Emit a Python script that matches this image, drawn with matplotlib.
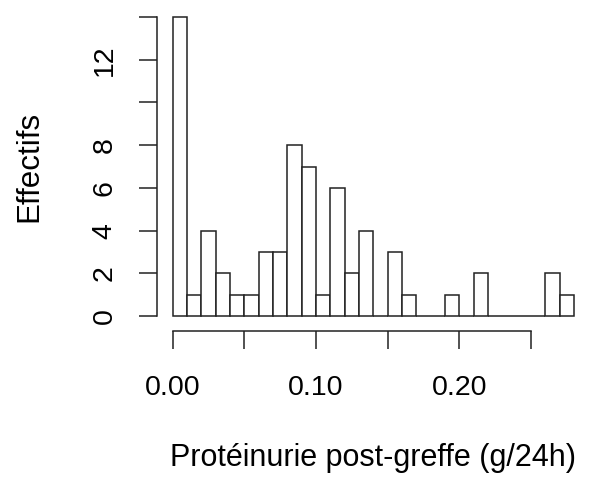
import numpy as np
import matplotlib
matplotlib.use("Agg")
import matplotlib.pyplot as plt

plt.rcParams['font.family'] = ['Liberation Sans', 'DejaVu Sans']

# histogram counts, bins of 0.01 g/24h starting at 0
counts = [14, 1, 4, 2, 1, 1, 3, 3, 8, 7, 1, 6, 2, 4,
          0, 3, 1, 0, 0, 1, 0, 2, 0, 0, 0, 0, 2, 1]
bin_start = 0.0
bin_width = 0.01

x_ticks = [0.00, 0.05, 0.10, 0.15, 0.20, 0.25]
x_ticklabels = ['0.00', '', '0.10', '', '0.20', '']
y_ticks = [0, 2, 4, 6, 8, 10, 12, 14]
y_ticklabels = ['0', '2', '4', '6', '8', '', '12', '']

fig = plt.figure(figsize=(5.98, 4.87), dpi=100)
ax = fig.add_axes([0.262, 0.3265, 0.725, 0.663])

lefts = bin_start + bin_width * np.arange(len(counts))
ax.bar(lefts, counts, width=bin_width, align='edge',
       facecolor='white', edgecolor='#222222', linewidth=1.1)

x_hi = bin_start + bin_width * len(counts)
pad_x = 0.04 * (x_hi - bin_start)
ax.set_xlim(bin_start - pad_x, x_hi + pad_x)
ax.set_ylim(-0.04 * 14, 14 * 1.04)

for s in ['top', 'right']:
    ax.spines[s].set_visible(False)
ax.spines['bottom'].set_bounds(0, 0.25)
ax.spines['left'].set_bounds(0, 14)
ax.spines['bottom'].set_position(('outward', 2))
for s in ['bottom', 'left']:
    ax.spines[s].set_linewidth(1.1)
    ax.spines[s].set_color('#222222')

ax.set_xticks(x_ticks)
ax.set_xticklabels(x_ticklabels)
ax.set_yticks(y_ticks)
ax.set_yticklabels(y_ticklabels, rotation=90, va='center')
ax.tick_params(axis='both', length=13, width=1.1, color='#222222', labelsize=20.5)
ax.tick_params(axis='x', pad=19)
ax.tick_params(axis='y', pad=15)

ax.set_xlabel('Protéinurie post-greffe (g/24h)', fontsize=22, labelpad=30)
ax.set_ylabel('Effectifs', fontsize=22.5, labelpad=34)

fig.savefig('out.png', dpi=100)
